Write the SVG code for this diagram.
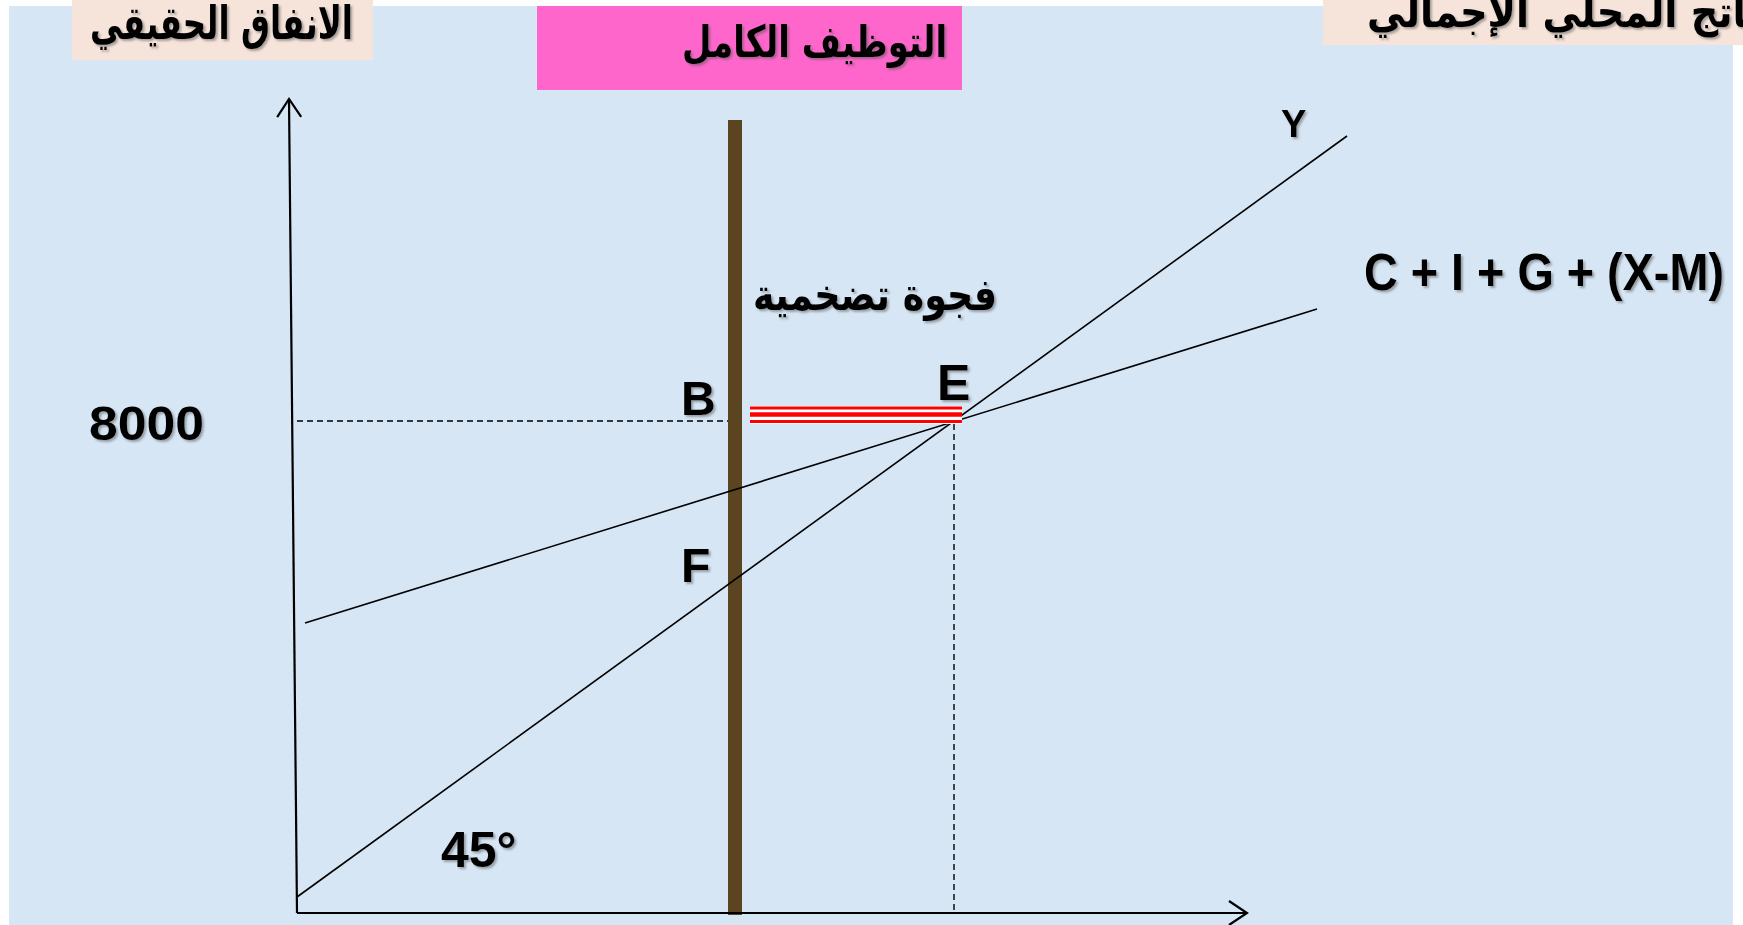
<svg xmlns="http://www.w3.org/2000/svg" width="1743" height="925" viewBox="0 0 1743 925">
  <defs>
    <style>
      .lbl { font-family: "Liberation Sans", Arial, sans-serif; font-weight: bold; fill: #000; filter: url(#sh); }
      .ar { font-family: "DejaVu Sans", "Noto Sans", sans-serif; font-weight: bold; fill: #000; filter: url(#sh); }
      .axis { stroke: #000; stroke-width: 2.2; fill: none; }
      .ln { stroke: #000; stroke-width: 1.6; fill: none; }
      .dash { stroke: #000; stroke-width: 1.4; stroke-dasharray: 6 4; fill: none; }
      .red { stroke: #ff0000; fill: none; }
    </style>
    <filter id="sh" x="-10%" y="-20%" width="130%" height="150%">
      <feDropShadow dx="2" dy="2" stdDeviation="1" flood-color="#555" flood-opacity="0.5"/>
    </filter>
    <marker id="arr" markerWidth="24" markerHeight="28" refX="20" refY="14" orient="auto" markerUnits="userSpaceOnUse">
      <path d="M2,2 L20,14 L2,26" fill="none" stroke="#000" stroke-width="2.2"/>
    </marker>
  </defs>

  <rect x="0" y="0" width="1743" height="925" fill="#ffffff"/>
  <rect id="background" x="9" y="6" width="1724" height="919" fill="#d6e6f5"/>

  <g id="label-expenditure">
    <rect x="72" y="0" width="301" height="60" fill="#f6e4da"/>
    <text class="ar" x="353" y="39" font-size="46" text-anchor="end" textLength="263" lengthAdjust="spacingAndGlyphs">الانفاق الحقيقي</text>
  </g>

  <g id="label-gdp">
    <rect x="1323" y="0" width="430" height="45" fill="#f6e4da"/>
    <text class="ar" x="1790" y="27" font-size="44" text-anchor="end" textLength="423" lengthAdjust="spacingAndGlyphs">الناتج المحلي الإجمالي</text>
  </g>

  <g id="full-employment">
    <rect x="537" y="6" width="425" height="84" fill="#ff66cc"/>
    <text class="ar" x="947" y="57" font-size="44" text-anchor="end" textLength="265" lengthAdjust="spacingAndGlyphs">التوظيف الكامل</text>
    <rect x="728" y="120" width="14" height="795" fill="#5a4520"/>
  </g>

  <g id="connectors">
    <line class="axis" x1="297" y1="913" x2="289" y2="99" marker-end="url(#arr)"/>
    <line class="axis" x1="297" y1="913" x2="1247" y2="913" marker-end="url(#arr)"/>
    <line class="ln" x1="297" y1="897" x2="1347" y2="136"/>
    <line class="ln" x1="305" y1="623" x2="1317" y2="309"/>
    <line class="dash" x1="297" y1="421" x2="728" y2="421"/>
    <line class="dash" x1="954" y1="424" x2="954" y2="911"/>
  </g>

  <g id="gap-bars">
    <rect x="750" y="406" width="212" height="18" fill="#ffffff"/>
    <line class="red" x1="750" y1="408" x2="962" y2="408" stroke-width="3"/>
    <line class="red" x1="750" y1="414.5" x2="962" y2="414.5" stroke-width="4.5"/>
    <line class="red" x1="750" y1="421.5" x2="962" y2="421.5" stroke-width="3"/>
  </g>

  <g id="labels">
    <text class="ar" x="997" y="310" font-size="44" text-anchor="end" textLength="244" lengthAdjust="spacingAndGlyphs">فجوة تضخمية</text>
    <text class="lbl" x="681" y="415" font-size="48">B</text>
    <text class="lbl" x="937" y="400" font-size="50">E</text>
    <text class="lbl" x="681" y="582" font-size="48">F</text>
    <text class="lbl" x="1281" y="137" font-size="38">Y</text>
    <text class="lbl" x="1364" y="290" font-size="52" textLength="360" lengthAdjust="spacingAndGlyphs">C + I + G + (X-M)</text>
    <text class="lbl" x="89" y="440" font-size="48" textLength="115" lengthAdjust="spacingAndGlyphs">8000</text>
    <text class="lbl" x="441" y="867" font-size="50">45°</text>
  </g>
</svg>
